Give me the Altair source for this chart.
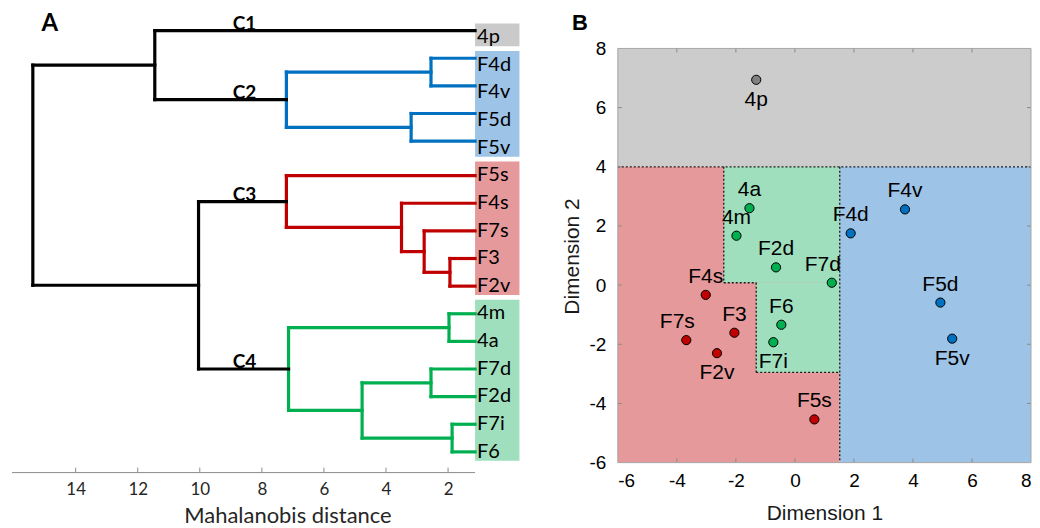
import altair as alt
import pandas as pd

# ================= Panel A: dendrogram (Mahalanobis distance) =================
leaves = ["4p", "F4d", "F4v", "F5d", "F5v", "F5s", "F4s", "F7s", "F3", "F2v",
          "4m", "4a", "F7d", "F2d", "F7i", "F6"]
leaf_group = ["C1", "C2", "C2", "C2", "C2", "C3", "C3", "C3", "C3", "C3",
              "C4", "C4", "C4", "C4", "C4", "C4"]
merge_name = ["n1", "n2", "n3", "n4", "n5", "n6", "n7", "n8", "n9",
              "C4", "C2", "C3", "C34", "C12", "root"]
merge_left = ["F3", "F7i", "4m", "F4d", "F7d", "F7s", "F5d", "F4s", "n5",
              "n3", "n4", "F5s", "C3", "4p", "C12"]
merge_right = ["F2v", "F6", "4a", "F4v", "F2d", "n1", "F5v", "n6", "n2",
               "n9", "n7", "n8", "C4", "C2", "C34"]
merge_height = [1.94, 1.87, 1.97, 2.55, 2.55, 2.77, 3.19, 3.50, 4.77,
                7.14, 7.21, 7.21, 10.04, 11.45, 15.38]
cluster_names = ["C1", "C2", "C3", "C4"]
cluster_root = ["4p", "C2", "C3", "C4"]
dist_ticks = [14, 12, 10, 8, 6, 4, 2]
axis_span = [16.05, 1.13]
leaf_dist = 1.13
cluster_label_dist = 8.56
gap_before = {"F5s": 0.25}     # extra space between leaf lines of C2 and C3
label_shift = 0.24             # leaf labels sit on an even grid

group_names = ["none", "C1", "C2", "C3", "C4"]
line_colors = ["#000000", "#000000", "#0070c0", "#c00000", "#00b050"]
fill_colors = ["#ffffff", "#cacaca", "#9dc3e6", "#e6999a", "#9fdfbd"]

# leaf slots
y_of, h_of, members = {}, {}, {}
pos = 0.0
for i, lf in enumerate(leaves):
    pos += gap_before.get(lf, 0.0) + (1.0 if i > 0 else 0.0)
    y_of[lf] = pos
    h_of[lf] = leaf_dist
    members[lf] = [lf]
grp_of_leaf = dict(zip(leaves, leaf_group))
label_y = [i + label_shift for i in range(len(leaves))]

seg_rows = []
for nm, a, b, h in zip(merge_name, merge_left, merge_right, merge_height):
    members[nm] = members[a] + members[b]
    gs = {grp_of_leaf[m] for m in members[nm]}
    g = gs.pop() if len(gs) == 1 else "none"
    ya, yb = y_of[a], y_of[b]
    y_of[nm] = (ya + yb) / 2
    h_of[nm] = h
    seg_rows.append(dict(x=h, x2=h, y=ya, y2=yb, g=g))
    seg_rows.append(dict(x=h_of[a], x2=h, y=ya, y2=ya, g=g))
    seg_rows.append(dict(x=h_of[b], x2=h, y=yb, y2=yb, g=g))
seg_df = pd.DataFrame(seg_rows)

box_rows = []
for g in cluster_names:
    sl = [ly for ly, lg in zip(label_y, leaf_group) if lg == g]
    box_rows.append(dict(x=leaf_dist, x2=-0.3, y=min(sl) - 0.5, y2=max(sl) + 0.33, g=g))
box_df = pd.DataFrame(box_rows)

leaf_df = pd.DataFrame(dict(label=leaves, x=[leaf_dist] * len(leaves), y=label_y))
clab_df = pd.DataFrame(dict(label=cluster_names,
                            x=[cluster_label_dist] * 4,
                            y=[y_of[r] for r in cluster_root]))
axline_df = pd.DataFrame(dict(x=[axis_span[0]], x2=[axis_span[1]], y=[16.0]))
tick_df = pd.DataFrame(dict(x=dist_ticks, y=[16.0] * len(dist_ticks),
                            y2=[16.0 - 0.18] * len(dist_ticks)))

xA = alt.Scale(domain=[16.18, -0.35], nice=False, zero=False)
yA = alt.Scale(domain=[-0.8, 16.0], reverse=True, nice=False, zero=False)
axA = alt.Axis(values=dist_ticks, domain=False, ticks=False, grid=False,
               labelFont="Lato", labelFontSize=17, labelColor="#262626",
               labelPadding=9, title="Mahalanobis distance", titleFont="Lato",
               titleFontSize=22, titleFontWeight="normal", titleColor="#262626",
               titlePadding=8, titleX=280)

lc = alt.Scale(domain=group_names, range=line_colors)
fc = alt.Scale(domain=group_names, range=fill_colors)

boxes = alt.Chart(box_df).mark_rect().encode(
    x=alt.X("x:Q", scale=xA, axis=axA), x2="x2:Q",
    y=alt.Y("y:Q", scale=yA, axis=None), y2="y2:Q",
    fill=alt.Fill("g:N", scale=fc, legend=None))
segs = alt.Chart(seg_df).mark_rule(strokeWidth=3.2, strokeCap="square").encode(
    x=alt.X("x:Q", scale=xA, axis=axA), x2="x2:Q",
    y=alt.Y("y:Q", scale=yA, axis=None), y2="y2:Q",
    stroke=alt.Stroke("g:N", scale=lc, legend=None))
axline = alt.Chart(axline_df).mark_rule(color="#8c8c8c", strokeWidth=1).encode(
    x=alt.X("x:Q", scale=xA, axis=axA), x2="x2:Q",
    y=alt.Y("y:Q", scale=yA, axis=None))
ticksA = alt.Chart(tick_df).mark_rule(color="#8c8c8c", strokeWidth=1).encode(
    x=alt.X("x:Q", scale=xA, axis=axA),
    y=alt.Y("y:Q", scale=yA, axis=None), y2="y2:Q")
leaf_txt = alt.Chart(leaf_df).mark_text(
    align="left", baseline="middle", dx=2, dy=0, font="Lato", fontSize=20,
    color="#000000").encode(
    x=alt.X("x:Q", scale=xA, axis=axA),
    y=alt.Y("y:Q", scale=yA, axis=None), text="label:N")
clab_txt = alt.Chart(clab_df).mark_text(
    align="center", baseline="alphabetic", dy=-1, font="Lato", fontSize=19,
    fontWeight="bold", color="#000000").encode(
    x=alt.X("x:Q", scale=xA, axis=axA),
    y=alt.Y("y:Q", scale=yA, axis=None), text="label:N")
letterA = alt.Chart(pd.DataFrame(dict(t=["A"]))).mark_text(
    align="center", baseline="middle", font="Lato", fontSize=24,
    fontWeight="bold", color="#000000").encode(
    x=alt.value(42), y=alt.value(16), text="t:N")

panelA = alt.layer(boxes, segs, axline, ticksA, leaf_txt, clab_txt, letterA).properties(
    width=514, height=465)

# ================= Panel B: scatter with class regions =================
pt_label = ["4p", "4a", "4m", "F2d", "F7d", "F4d", "F4v", "F5d", "F5v",
            "F4s", "F3", "F7s", "F2v", "F6", "F7i", "F5s"]
dim1 = [-1.31, -1.54, -1.98, -0.64, 1.25, 1.89, 3.73, 4.93, 5.33,
        -3.02, -2.05, -3.68, -2.64, -0.46, -0.73, 0.66]
dim2 = [6.94, 2.60, 1.67, 0.60, 0.08, 1.75, 2.56, -0.59, -1.81,
        -0.33, -1.61, -1.86, -2.30, -1.34, -1.93, -4.54]
pt_group = ["C1", "C4", "C4", "C4", "C4", "C2", "C2", "C2", "C2",
            "C3", "C3", "C3", "C3", "C4", "C4", "C3"]
pt_place = ["below", "above", "above", "above", "aboveleft", "above", "above",
            "above", "below", "above", "above", "aboveleft", "below", "above",
            "below", "above"]
x_split = 1.52
y_split = 4.0
green_left = -2.41
step_x = -1.31
step_y = 0.08
green_bottom = -2.95
dim_ticks = [-6, -4, -2, 0, 2, 4, 6, 8]
inner_ticks = [-4, -2, 0, 2, 4, 6]
x_lim = [-6, 8]
y_lim = [-6, 8]

point_colors = ["#000000", "#808080", "#0070c0", "#c00000", "#00b050"]
region_colors = ["#ffffff", "#cccccc", "#9dc3e6", "#e6999a", "#9fdfbd"]

reg_df = pd.DataFrame([
    dict(x=x_lim[0], x2=x_lim[1], y=y_split, y2=y_lim[1], g="C1"),
    dict(x=x_lim[0], x2=x_split, y=y_lim[0], y2=y_split, g="C3"),
    dict(x=green_left, x2=x_split, y=step_y, y2=y_split, g="C4"),
    dict(x=step_x, x2=x_split, y=green_bottom, y2=step_y, g="C4"),
    dict(x=x_split, x2=x_lim[1], y=y_lim[0], y2=y_split, g="C2"),
])
bnd_df = pd.DataFrame([
    dict(x=x_lim[0], x2=x_lim[1], y=y_split, y2=y_split),
    dict(x=x_split, x2=x_split, y=y_split, y2=y_lim[0]),
    dict(x=green_left, x2=green_left, y=y_split, y2=step_y),
    dict(x=green_left, x2=step_x, y=step_y, y2=step_y),
    dict(x=step_x, x2=step_x, y=step_y, y2=green_bottom),
    dict(x=step_x, x2=x_split, y=green_bottom, y2=green_bottom),
])
tl = 0.135
tick_rows = []
for v in inner_ticks:
    tick_rows.append(dict(x=v, x2=v, y=y_lim[1], y2=y_lim[1] - tl))
    tick_rows.append(dict(x=v, x2=v, y=y_lim[0], y2=y_lim[0] + tl))
    tick_rows.append(dict(x=x_lim[0], x2=x_lim[0] + tl, y=v, y2=v))
    tick_rows.append(dict(x=x_lim[1], x2=x_lim[1] - tl, y=v, y2=v))
tickB_df = pd.DataFrame(tick_rows)
frame_df = pd.DataFrame([dict(x=x_lim[0], x2=x_lim[1], y=y_lim[0], y2=y_lim[1])])
pts_df = pd.DataFrame(dict(label=pt_label, d1=dim1, d2=dim2, g=pt_group, place=pt_place))

hyphen_expr = "datum.value < 0 ? '-' + abs(datum.value) : '' + datum.value"
xB = alt.Scale(domain=[-6, 8], nice=False, zero=False)
yB = alt.Scale(domain=[-6, 9.35], nice=False, zero=False)
axBx = alt.Axis(values=dim_ticks, domain=False, ticks=False, grid=False,
                labelExpr=hyphen_expr,
                labelFont="Liberation Sans", labelFontSize=19, labelColor="#000000",
                labelPadding=9, title="Dimension 1", titleFont="Liberation Sans",
                titleFontSize=21, titleFontWeight="normal", titleColor="#1a1a1a",
                titlePadding=12)
axBy = alt.Axis(values=dim_ticks, domain=False, ticks=False, grid=False,
                labelExpr=hyphen_expr,
                labelFont="Liberation Sans", labelFontSize=19, labelColor="#000000",
                labelPadding=12, title="Dimension 2", titleFont="Liberation Sans",
                titleFontSize=21, titleFontWeight="normal", titleColor="#1a1a1a",
                titlePadding=6, titleY=248)

pc = alt.Scale(domain=group_names, range=point_colors)
rc = alt.Scale(domain=group_names, range=region_colors)

regions = alt.Chart(reg_df).mark_rect().encode(
    x=alt.X("x:Q", scale=xB, axis=axBx), x2="x2:Q",
    y=alt.Y("y:Q", scale=yB, axis=axBy), y2="y2:Q",
    color=alt.Color("g:N", scale=rc, legend=None))
bounds = alt.Chart(bnd_df).mark_rule(color="#1a1a1a", strokeWidth=1.3,
                                     strokeDash=[2, 2]).encode(
    x=alt.X("x:Q", scale=xB, axis=axBx), x2="x2:Q",
    y=alt.Y("y:Q", scale=yB, axis=axBy), y2="y2:Q")
ticksB = alt.Chart(tickB_df).mark_rule(color="#8a8a8a", strokeWidth=1).encode(
    x=alt.X("x:Q", scale=xB, axis=axBx), x2="x2:Q",
    y=alt.Y("y:Q", scale=yB, axis=axBy), y2="y2:Q")
frame = alt.Chart(frame_df).mark_rect(fill=None, stroke="#a6a6a6",
                                      strokeWidth=1).encode(
    x=alt.X("x:Q", scale=xB, axis=axBx), x2="x2:Q",
    y=alt.Y("y:Q", scale=yB, axis=axBy), y2="y2:Q")
points = alt.Chart(pts_df).mark_point(filled=True, shape="circle", size=85,
                                      stroke="#000000", strokeWidth=1,
                                      opacity=1).encode(
    x=alt.X("d1:Q", scale=xB, axis=axBx),
    y=alt.Y("d2:Q", scale=yB, axis=axBy),
    fill=alt.Fill("g:N", scale=pc, legend=None))

def label_layer(place, dx, dy):
    return alt.Chart(pts_df).transform_filter(
        alt.datum.place == place).mark_text(
        align="center", baseline="middle", dx=dx, dy=dy,
        font="Liberation Sans", fontSize=21, color="#000000").encode(
        x=alt.X("d1:Q", scale=xB, axis=axBx),
        y=alt.Y("d2:Q", scale=yB, axis=axBy), text="label:N")

lab_above = label_layer("above", 0, -18)
lab_below = label_layer("below", 0, 20)
lab_al = label_layer("aboveleft", -9, -18)
letterB = alt.Chart(pd.DataFrame(dict(t=["B"]))).mark_text(
    align="center", baseline="middle", font="Liberation Sans", fontSize=22,
    fontWeight="bold", color="#000000").encode(
    x=alt.value(-38), y=alt.value(15), text="t:N")

panelB = alt.layer(regions, bounds, ticksB, frame, points, lab_above, lab_below,
                   lab_al, letterB).properties(width=414, height=455)

chart = alt.hconcat(panelA, panelB, spacing=41, padding=0).resolve_scale(
    fill="independent", color="independent", stroke="independent",
    x="independent", y="independent").configure_view(stroke=None)
chart.save("out.html", embed_options={"renderer": "svg", "actions": False})
